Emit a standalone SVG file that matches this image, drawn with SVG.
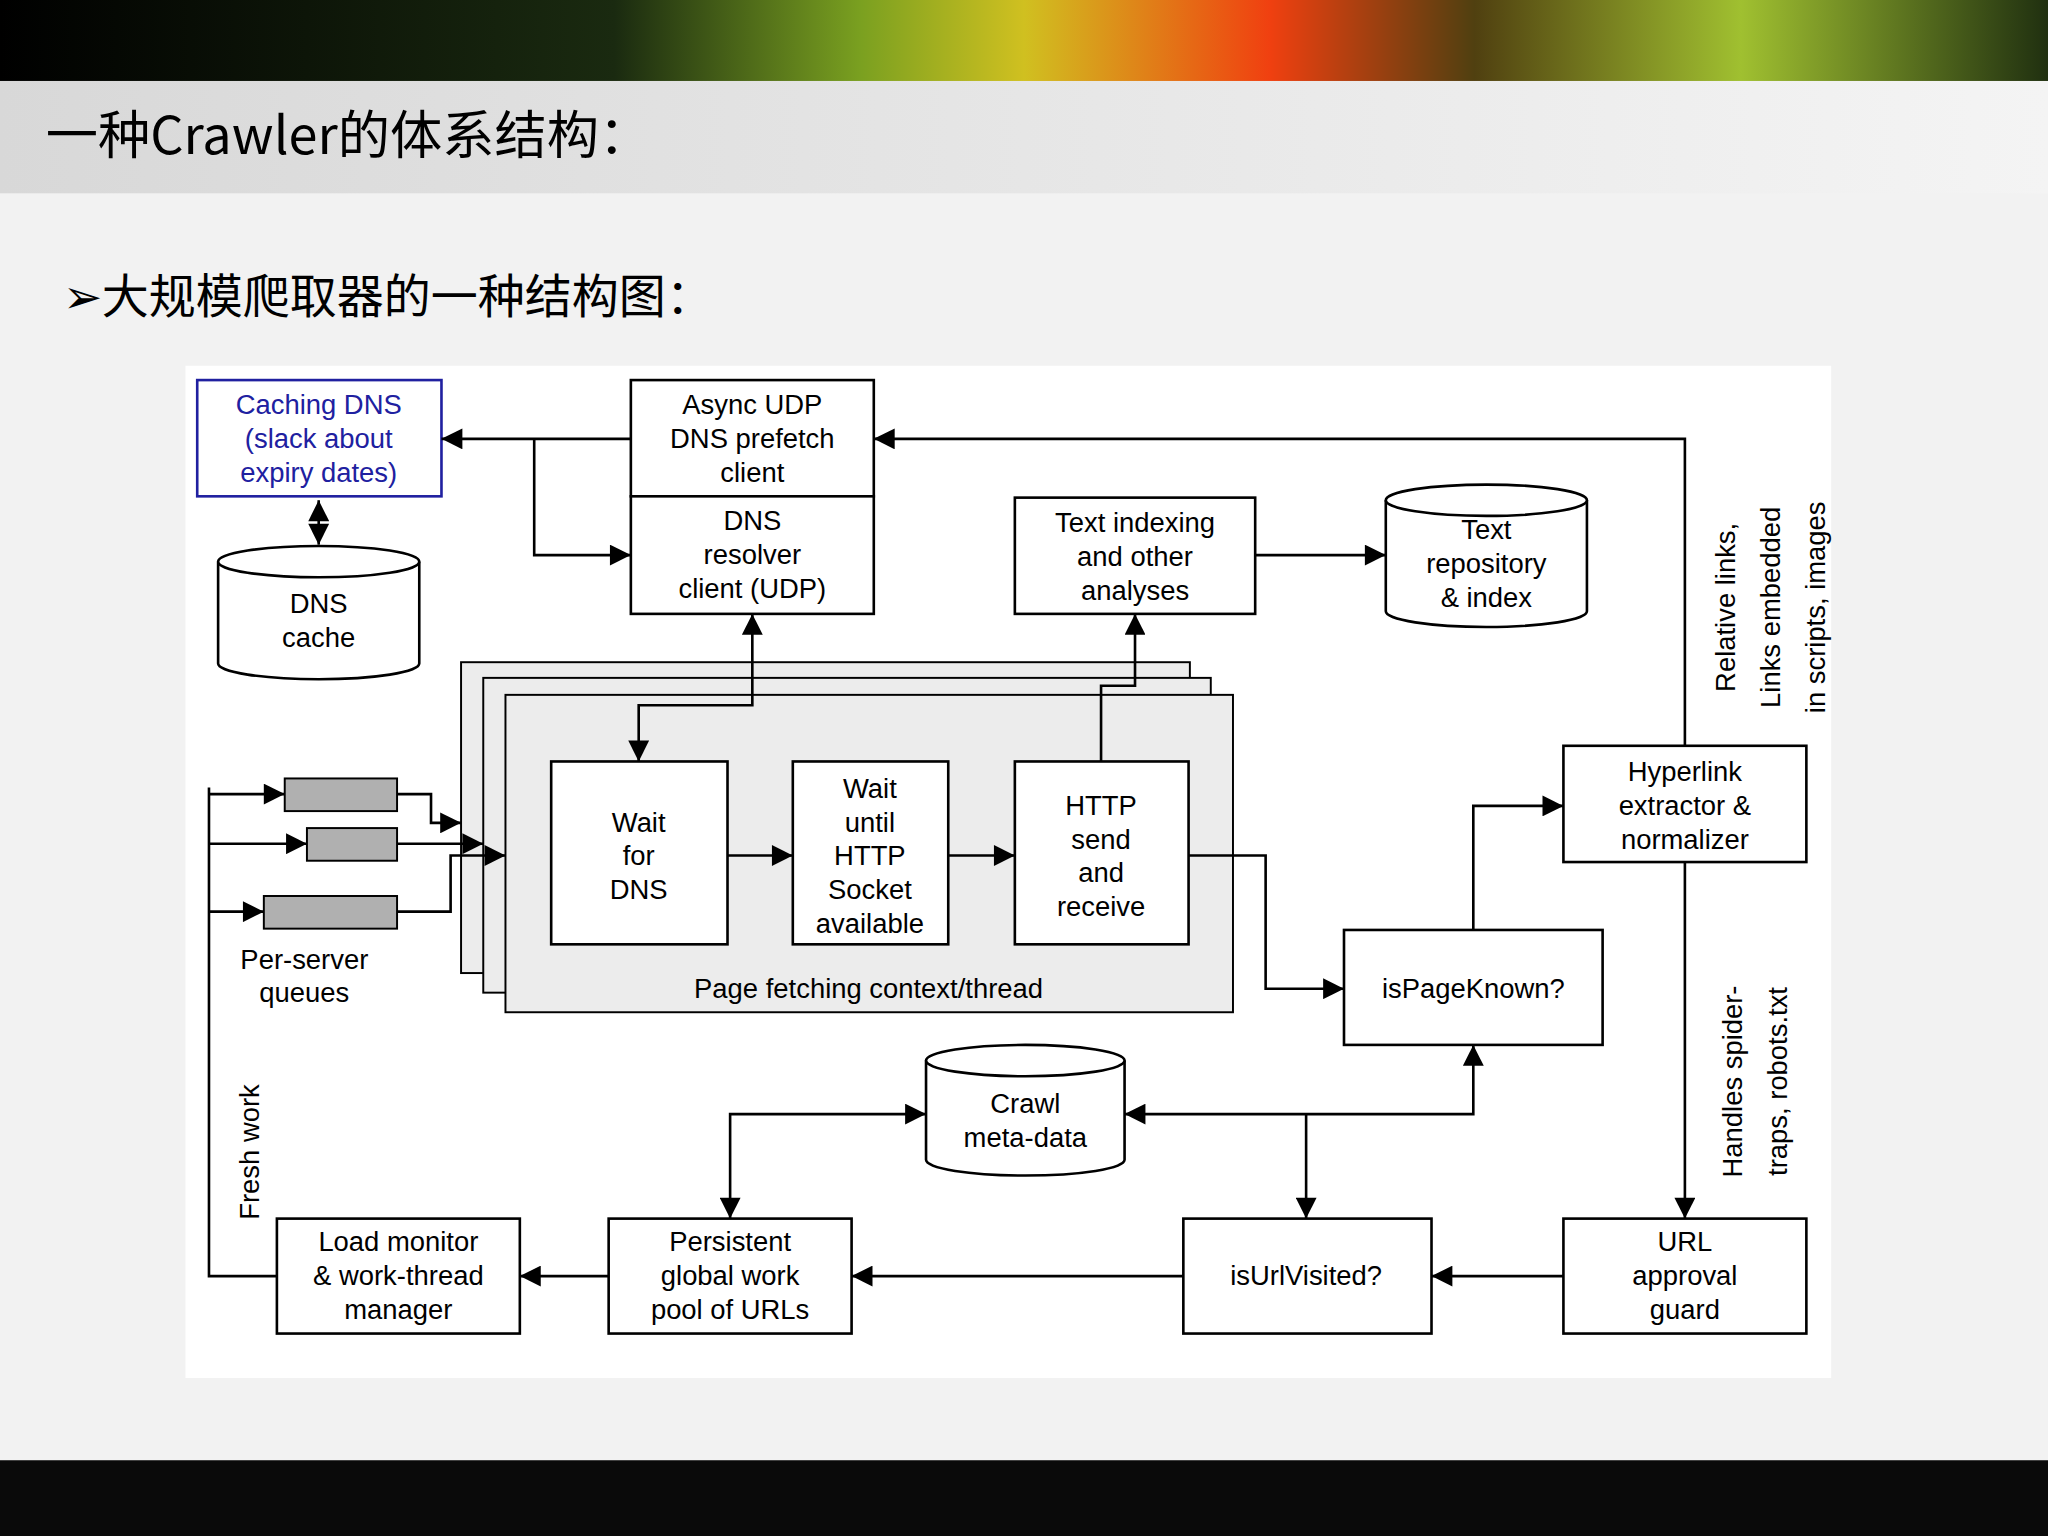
<svg xmlns="http://www.w3.org/2000/svg" width="2048" height="1536" viewBox="0 0 2048 1536">
<defs>
<linearGradient id="top" x1="0" y1="0" x2="1" y2="0">
<stop offset="0" stop-color="#000"/><stop offset="0.3" stop-color="#1a2a10"/><stop offset="0.42" stop-color="#7aa020"/><stop offset="0.5" stop-color="#d0c020"/><stop offset="0.62" stop-color="#f04010"/><stop offset="0.72" stop-color="#504010"/><stop offset="0.85" stop-color="#a0c030"/><stop offset="1" stop-color="#203010"/>
</linearGradient>
<linearGradient id="bar" x1="0" y1="0" x2="1" y2="0"><stop offset="0" stop-color="#d8d8d8"/><stop offset="1" stop-color="#f4f4f4"/></linearGradient>
<marker id="a" viewBox="0 0 10 10" refX="10" refY="5" markerWidth="22" markerHeight="16" markerUnits="userSpaceOnUse" orient="auto-start-reverse"><path d="M0,0L10,5L0,10z" fill="#000"/></marker>
<style>
.b{fill:#fff;stroke:#000;stroke-width:2}
.t{font-family:"Liberation Sans",Arial,sans-serif;font-size:21px;text-anchor:middle;fill:#000}
.c{fill:none;stroke:#000;stroke-width:2}
.ca{fill:none;stroke:#000;stroke-width:2;marker-end:url(#a)}
.cjk{font-family:"Noto Sans CJK SC","Liberation Sans",sans-serif;fill:#000}
</style>
</defs>
<g transform="scale(1.30612)">
<rect width="1568" height="1176" fill="#f2f2f2"/>
<rect width="1568" height="62" fill="url(#top)"/>
<rect y="62" width="1568" height="86" fill="url(#bar)"/>
<rect y="1118" width="1568" height="58" fill="#0a0a0a"/>
<text class="cjk" x="35" y="118" font-size="40">一种Crawler的体系结构：</text>
<text class="cjk" x="48" y="240" font-size="36">➢大规模爬取器的一种结构图：</text>
<rect x="142" y="280" width="1260" height="775" fill="#fff"/>

<g id="stack">
<rect x="353" y="507" width="558" height="238" fill="#ececec" stroke="#000" stroke-width="1.5"/>
<rect x="370" y="519" width="557" height="241" fill="#ececec" stroke="#000" stroke-width="1.5"/>
<rect x="387" y="532" width="557" height="243" fill="#ececec" stroke="#000" stroke-width="1.5"/>
<text class="t" x="665" y="764">Page fetching context/thread</text>
</g>
<g id="cachingdns"><rect x="151" y="291" width="187" height="89" fill="#fff" stroke="#2020a0" stroke-width="2"/>
<text class="t" x="244" y="317" fill="#2020a0" style="fill:#2020a0">Caching DNS</text><text class="t" x="244" y="343" style="fill:#2020a0">(slack about</text><text class="t" x="244" y="369" style="fill:#2020a0">expiry dates)</text></g>
<g id="dnscache"><path d="M167,430 V508 A77,12 0 0 0 321,508 V430" class="b"/><ellipse cx="244" cy="430" rx="77" ry="12" class="b"/>
<text class="t" x="244" y="469">DNS</text><text class="t" x="244" y="495">cache</text></g>
<g id="async"><rect x="483" y="291" width="186" height="89" class="b"/><text class="t" x="576" y="317">Async UDP</text><text class="t" x="576" y="343">DNS prefetch</text><text class="t" x="576" y="369">client</text></g>
<g id="resolver"><rect x="483" y="380" width="186" height="90" class="b"/><text class="t" x="576" y="406">DNS</text><text class="t" x="576" y="432">resolver</text><text class="t" x="576" y="458">client (UDP)</text></g>
<g id="textidx"><rect x="777" y="381" width="184" height="89" class="b"/><text class="t" x="869" y="407">Text indexing</text><text class="t" x="869" y="433">and other</text><text class="t" x="869" y="459">analyses</text></g>
<g id="textrepo"><path d="M1061,383 V468 A77,12 0 0 0 1215,468 V383" class="b"/><ellipse cx="1138" cy="383" rx="77" ry="12" class="b"/>
<text class="t" x="1138" y="413">Text</text><text class="t" x="1138" y="439">repository</text><text class="t" x="1138" y="465">&amp; index</text></g>
<g id="waitdns"><rect x="422" y="583" width="135" height="140" class="b"/><text class="t" x="489" y="637">Wait</text><text class="t" x="489" y="662">for</text><text class="t" x="489" y="688">DNS</text></g>
<g id="waithttp"><rect x="607" y="583" width="119" height="140" class="b"/><text class="t" x="666" y="611">Wait</text><text class="t" x="666" y="637">until</text><text class="t" x="666" y="662">HTTP</text><text class="t" x="666" y="688">Socket</text><text class="t" x="666" y="714">available</text></g>
<g id="httpsend"><rect x="777" y="583" width="133" height="140" class="b"/><text class="t" x="843" y="624">HTTP</text><text class="t" x="843" y="650">send</text><text class="t" x="843" y="675">and</text><text class="t" x="843" y="701">receive</text></g>
<g id="queues">
<rect x="218" y="596" width="86" height="25" fill="#b0b0b0" stroke="#000" stroke-width="1.5"/>
<rect x="235" y="634" width="69" height="25" fill="#b0b0b0" stroke="#000" stroke-width="1.5"/>
<rect x="202" y="686" width="102" height="25" fill="#b0b0b0" stroke="#000" stroke-width="1.5"/>
<text class="t" x="233" y="742">Per-server</text><text class="t" x="233" y="767">queues</text></g>
<g id="hyperlink"><rect x="1197" y="571" width="186" height="89" class="b"/><text class="t" x="1290" y="598">Hyperlink</text><text class="t" x="1290" y="624">extractor &amp;</text><text class="t" x="1290" y="650">normalizer</text></g>
<g id="ispageknown"><rect x="1029" y="712" width="198" height="88" class="b"/><text class="t" x="1128" y="764">isPageKnown?</text></g>
<g id="crawlmeta"><path d="M709,812 V888 A76,12 0 0 0 861,888 V812" class="b"/><ellipse cx="785" cy="812" rx="76" ry="12" class="b"/>
<text class="t" x="785" y="852">Crawl</text><text class="t" x="785" y="878">meta-data</text></g>
<g id="loadmon"><rect x="212" y="933" width="186" height="88" class="b"/><text class="t" x="305" y="958">Load monitor</text><text class="t" x="305" y="984">&amp; work-thread</text><text class="t" x="305" y="1010">manager</text></g>
<g id="pool"><rect x="466" y="933" width="186" height="88" class="b"/><text class="t" x="559" y="958">Persistent</text><text class="t" x="559" y="984">global work</text><text class="t" x="559" y="1010">pool of URLs</text></g>
<g id="isurl"><rect x="906" y="933" width="190" height="88" class="b"/><text class="t" x="1000" y="984">isUrlVisited?</text></g>
<g id="guard"><rect x="1197" y="933" width="186" height="88" class="b"/><text class="t" x="1290" y="958">URL</text><text class="t" x="1290" y="984">approval</text><text class="t" x="1290" y="1010">guard</text></g>
<g id="labels">
<text class="t" transform="translate(1328,465) rotate(-90)">Relative links,</text>
<text class="t" transform="translate(1363,465) rotate(-90)">Links embedded</text>
<text class="t" transform="translate(1397,465) rotate(-90)">in scripts, images</text>
<text class="t" transform="translate(1334,828) rotate(-90)">Handles spider-</text>
<text class="t" transform="translate(1368,828) rotate(-90)">traps, robots.txt</text>
<text class="t" transform="translate(198,882) rotate(-90)">Fresh work</text>
</g>
<g id="connectors">
<path class="ca" d="M1290,571 V336 H669"/>
<path class="ca" d="M483,336 H338"/>
<path class="ca" d="M409,336 V425 H483"/>
<path class="c" d="M244,383 V417" marker-start="url(#a)" marker-end="url(#a)"/>
<path class="c" d="M576,470 V540 H489 V583" marker-start="url(#a)" marker-end="url(#a)"/>
<path class="ca" d="M843,583 V525 H869 V470"/>
<path class="ca" d="M961,425 H1061"/>
<path class="ca" d="M557,655 H607"/>
<path class="ca" d="M726,655 H777"/>
<path class="ca" d="M910,655 H969 V757 H1029"/>
<path class="ca" d="M1128,712 V617 H1197"/>
<path class="ca" d="M1290,660 V933"/>
<path class="ca" d="M1197,977 H1096"/>
<path class="ca" d="M906,977 H652"/>
<path class="ca" d="M466,977 H398"/>
<path class="c" d="M212,977 H160 V603"/>
<path class="ca" d="M160,608 H218"/>
<path class="ca" d="M160,646 H235"/>
<path class="ca" d="M160,698 H202"/>
<path class="ca" d="M304,608 H330 V630 H353"/>
<path class="ca" d="M304,646 H370"/>
<path class="ca" d="M304,698 H345 V655 H387"/>
<path class="ca" d="M1000,853 V933"/>
<path class="c" d="M861,853 H1128 V800" marker-start="url(#a)" marker-end="url(#a)"/>
<path class="c" d="M559,933 V853 H709" marker-start="url(#a)" marker-end="url(#a)"/>
</g>
</g>
</svg>
